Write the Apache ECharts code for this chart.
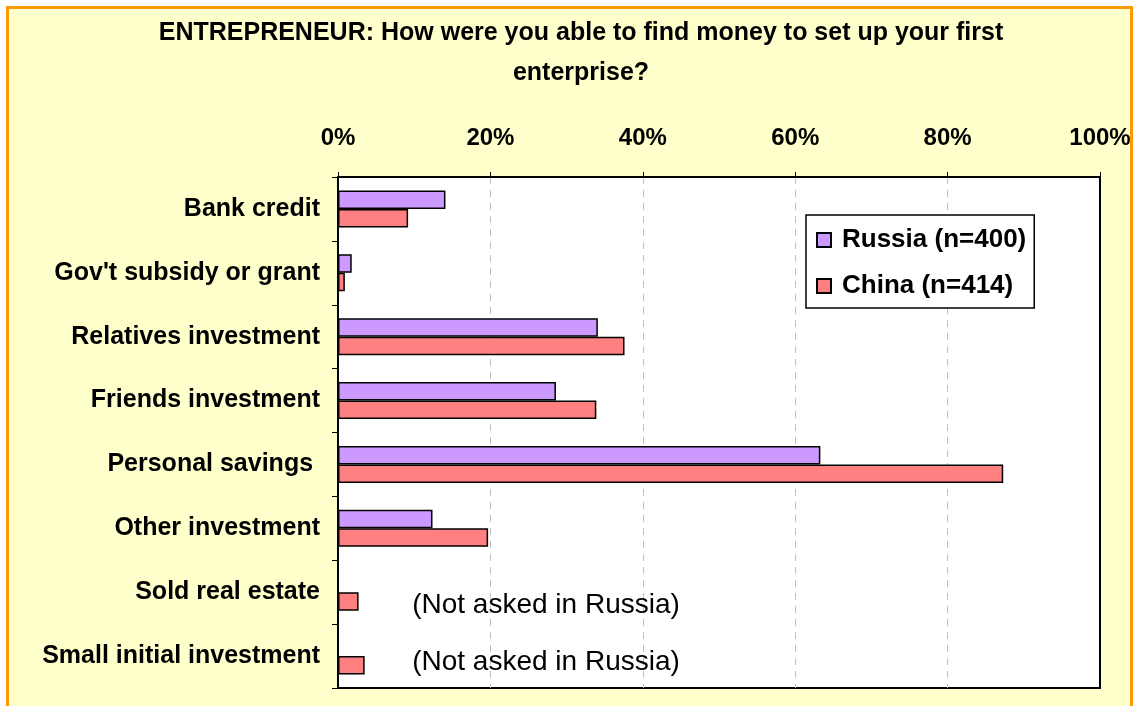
<!DOCTYPE html>
<html><head><meta charset="utf-8">
<script src="https://cdn.jsdelivr.net/npm/echarts@6/dist/echarts.min.js"></script>
<style>html,body{margin:0;padding:0;background:#fff}#c{width:1138px;height:706px}</style>
</head><body><div id="c"></div>
<script>
const categories = ['Bank credit', "Gov't subsidy or grant", 'Relatives investment', 'Friends investment', 'Personal savings ', 'Other investment', 'Sold real estate', 'Small initial investment'];
const seriesNames = ['Russia (n=400)', 'China (n=414)'];
const russia = [14.1, 1.8, 34.1, 28.6, 63.3, 12.4, null, null];
const china = [9.2, 0.9, 37.6, 33.9, 87.3, 19.7, 2.7, 3.5];
const notes = [
  {category: 'Sold real estate', x: 27.3, text: '(Not asked in Russia)', dy: 22},
  {category: 'Small initial investment', x: 27.3, text: '(Not asked in Russia)', dy: 15}
];
const titleText = 'ENTREPRENEUR: How were you able to find money to set up your first\nenterprise?';

const FONT = '"Liberation Sans", Arial, sans-serif';
const chart = echarts.init(document.getElementById('c'), null, {renderer: 'canvas'});
chart.setOption({
  animation: false,
  backgroundColor: '#fff',
  graphic: {elements: [{
    type: 'rect', z: -100, silent: true,
    shape: {x: 7.5, y: 7.5, width: 1124, height: 720},
    style: {fill: '#FFFFCC', stroke: '#FF9900', lineWidth: 3}
  }]},
  title: {
    text: titleText, left: 581, top: 13, padding: 0, textAlign: 'center',
    textStyle: {fontFamily: FONT, fontWeight: 'bold', fontSize: 25, lineHeight: 40, color: '#000'}
  },
  legend: {
    data: seriesNames, orient: 'vertical', left: 806, top: 215, icon: 'rect',
    padding: [12, 8, 9, 10], itemGap: 20, itemWidth: 14, itemHeight: 14,
    backgroundColor: '#fff', borderColor: '#000', borderWidth: 1.5,
    textStyle: {fontFamily: FONT, fontWeight: 'bold', fontSize: 26, lineHeight: 26, color: '#000', padding: [0, 0, 0, 6]}
  },
  grid: {left: 338, top: 177, width: 762, height: 511, show: true, backgroundColor: '#fff', borderColor: '#000', borderWidth: 2, containLabel: false},
  xAxis: {
    type: 'value', position: 'top', min: 0, max: 100, interval: 20,
    axisLine: {show: true, lineStyle: {color: '#000', width: 2}},
    axisTick: {show: true, inside: false, length: 5, lineStyle: {color: '#000', width: 1}},
    axisLabel: {formatter: '{value}%', margin: 27, fontFamily: FONT, fontWeight: 'bold', fontSize: 24, color: '#000'},
    splitLine: {show: true, showMinLine: false, showMaxLine: false, lineStyle: {color: '#c0c0c0', width: 1, type: [7, 6]}}
  },
  yAxis: {
    type: 'category', data: categories, inverse: true,
    axisLine: {show: true, lineStyle: {color: '#000', width: 2}},
    axisTick: {show: true, length: 6, lineStyle: {color: '#000', width: 1}},
    axisLabel: {margin: 18, fontFamily: FONT, fontWeight: 'bold', fontSize: 25, color: '#000'},
    splitLine: {show: false}
  },
  series: [
    {
      name: seriesNames[0], type: 'bar', data: russia, barGap: '0%', barCategoryGap: '42%',
      itemStyle: {color: '#CC99FF', borderColor: '#000', borderWidth: 1.5},
      markPoint: {
        symbol: 'rect', symbolSize: 1, itemStyle: {color: 'rgba(0,0,0,0)'},
        data: notes.map(n => ({
          coord: [n.x, n.category],
          label: {show: true, position: 'inside', formatter: n.text, offset: [0, n.dy],
            fontFamily: FONT, fontSize: 28, color: '#000'}
        }))
      }
    },
    {
      name: seriesNames[1], type: 'bar', data: china, barGap: '0%', barCategoryGap: '42%',
      itemStyle: {color: '#FF8080', borderColor: '#000', borderWidth: 1.5}
    }
  ]
});
</script></body></html>
